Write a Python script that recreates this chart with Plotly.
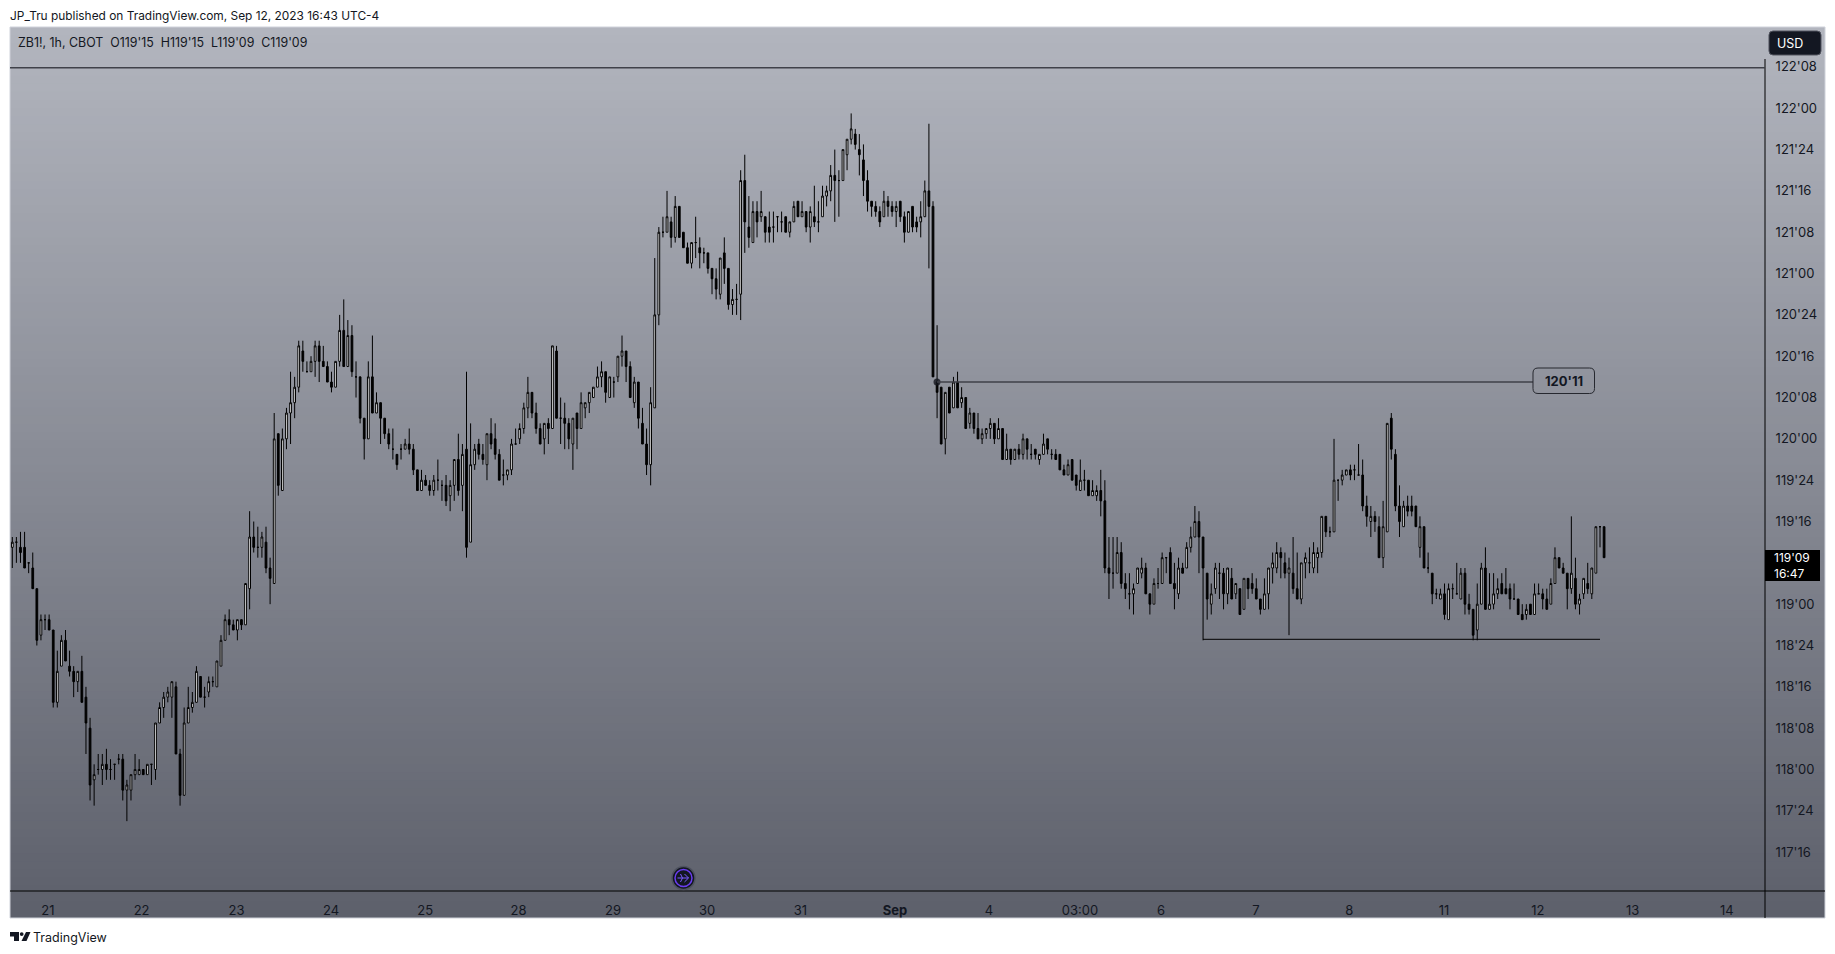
import plotly.graph_objects as go

# Prices are stored in 32nds above 117'00
opens = [75,76,75,75,72,71,67,58,61,61, 59,45,52,57,52,51,49,51,46,40, 30,32,32,33,32,33,34,34,28,28, 31,31,32,31,33,32,41,44,46,46,
48,35,27,41,44,45,50,46,47,49, 48,52,57,61,60,59,61,60,67,77, 75,75,76,71,68,97,86,96,101,103, 106,113,109,109,111,114,111,110,107,106,
111,117,110,116,108,108,100,96,108,101, 103,100,97,94,93,94,94,95,94,90, 86,88,87,86,88,87,87,85,87,92, 87,94,76,91,95,93,91,97,96,93,
89,89,90,95,96,98,102,105,101,98, 96,99,98,113,100,100,99,95,101,98, 102,103,104,106,108,109,104,107,108,112, 113,110,103,107,99,95,91,102,120,136,
136,138,135,141,136,133,130,134,133,132, 132,129,127,124,132,129,122,123,124,146, 137,134,140,139,139,137,137,139,138,139, 136,138,142,139,140,137,139,138,139,143,
144,147,146,146,151,154,155,152,150,146, 142,141,140,139,142,141,140,142,139,136, 141,138,138,139,144,141,107,106,96,106, 102,107,103,104,99,101,98,96,97,98,
99,96,98,92,94,92,94,93,96,93, 94,92,93,96,93,93,93,90,89,92, 89,86,88,88,85,85,86,84,71,70, 70,74,68,66,66,68,70,71,66,64,
68,68,73,74,68,66,71,71,75,77, 80,77,70,64,67,70,70,66,69,66, 67,63,69,68,67,65,63,66,71,71, 74,72,70,70,67,65,72,72,71,73,
74,81,78,78,88,88,89,90,90,89, 89,83,80,81,79,73,78,100,93,83, 79,83,83,83,75,79,71,70,66,65, 66,61,67,66,65,70,64,63,59,64,
71,63,64,66,68,67,67,65,65,62, 62,64,62,66,66,65,64,68,73,71, 70,67,69,64,66,68,66,70,79,79]
highs = [77,77,78,78,72,74,67,62,62,62, 59,55,58,59,55,52,51,54,48,42, 33,35,35,36,34,33,35,35,30,31, 35,34,32,33,33,41,45,47,48,49,
49,36,44,48,47,52,50,48,50,50, 53,58,62,63,61,61,61,68,82,80, 79,78,79,73,101,97,98,102,109,108, 115,115,111,112,115,115,114,111,109,111,
120,123,119,118,111,108,100,111,116,105, 103,100,98,98,93,95,96,98,95,90, 90,89,88,89,92,88,89,88,92,97, 95,109,99,95,96,95,97,100,99,94,
92,90,96,98,99,103,108,105,103,99, 99,100,114,114,104,103,100,100,101,105, 103,105,106,110,111,109,108,108,112,116, 113,111,108,107,102,98,106,131,137,139,
144,139,143,141,136,134,134,139,135,133, 132,129,129,131,135,129,125,126,148,151, 143,142,142,144,139,140,140,139,140,139, 138,142,142,142,140,141,145,142,145,145,
149,152,148,152,154,159,156,155,153,148, 142,142,141,144,143,142,142,142,140,140, 141,139,142,146,157,142,118,106,105,106, 108,109,106,104,102,101,101,98,98,100,
99,100,98,97,94,94,95,97,96,95, 94,93,97,96,94,94,93,91,92,92, 89,92,90,88,88,87,90,88,77,77, 77,76,70,70,68,71,73,72,66,69,
71,74,73,75,72,73,72,76,79,83, 82,77,70,68,72,72,71,71,71,68, 67,69,69,70,69,65,69,71,74,76, 75,74,73,77,74,72,74,75,76,75,
81,81,79,96,88,90,90,91,91,95, 92,85,83,82,81,84,99,101,94,87, 84,85,85,83,81,79,74,70,67,67, 68,68,68,72,71,71,66,63,68,72,
75,70,70,69,70,71,68,68,65,64, 64,64,68,68,67,67,69,75,73,72, 70,81,73,66,69,72,71,79,79,79]
lows = [71,72,72,71,70,67,56,57,59,59, 44,44,52,53,50,46,47,45,35,26, 25,31,29,30,30,30,33,26,22,26, 30,31,31,31,29,30,41,42,45,42,
35,25,27,41,43,45,46,44,46,48, 48,52,57,58,59,57,59,60,63,74, 73,73,70,64,68,85,86,94,95,100, 105,109,109,109,108,107,110,107,105,106,
110,110,110,108,104,99,92,96,101,101, 95,96,94,92,90,92,94,93,89,86, 86,87,85,85,86,84,83,82,84,85, 82,73,76,90,92,91,88,94,92,88,
87,88,89,95,95,97,100,100,97,95, 93,95,98,100,95,94,94,90,94,98, 100,101,104,106,106,103,104,104,107,110, 107,104,102,98,95,89,87,102,118,135,
136,133,134,135,133,130,129,131,129,130, 128,124,123,123,126,121,120,120,119,132, 133,134,135,138,134,134,134,136,136,136, 135,138,139,139,136,134,137,136,139,141,
142,138,139,146,148,153,152,147,143,140, 139,139,137,139,139,139,137,138,134,136, 136,136,135,139,129,108,100,95,93,101, 102,102,102,98,98,97,96,95,96,96,
95,96,92,92,91,92,92,92,92,92, 92,91,93,93,92,92,90,89,89,88, 86,86,86,85,85,84,81,70,65,67, 70,67,65,63,62,68,69,66,62,64,
67,68,70,68,63,65,70,71,74,77, 70,57,61,62,66,65,63,64,65,65, 62,63,65,66,65,62,63,63,68,70, 69,69,58,66,65,64,69,70,70,70,
73,77,77,78,84,87,89,88,88,89, 82,79,77,78,73,71,78,92,82,77, 79,81,81,79,73,71,70,64,65,65, 61,61,65,66,65,62,62,57,57,64,
63,63,63,65,66,66,63,65,62,61, 61,62,62,66,63,63,64,68,71,70, 63,66,63,62,65,66,65,70,75,73]
closes = [76,76,74,71,72,67,57,61,61,59, 45,51,57,53,51,49,51,45,41,29, 31,32,33,32,32,33,34,28,29,31, 32,32,31,33,33,41,44,46,47,49,
35,27,41,44,45,51,46,46,49,49, 53,57,61,60,59,61,60,68,77,75, 75,77,71,69,96,87,96,101,103,106, 114,111,109,111,114,111,110,107,106,111,
117,110,116,109,108,100,96,108,101,103, 100,97,95,94,91,94,95,94,90,86, 88,87,86,88,88,87,84,87,92,86, 93,75,91,94,93,92,97,95,93,88,
89,90,95,95,98,102,105,101,98,95, 99,98,114,100,100,99,96,100,98,103, 103,105,106,108,109,105,108,107,112,113, 110,104,107,100,95,91,103,120,136,136,
139,135,141,135,133,130,134,134,132,132, 129,127,125,131,129,122,123,123,146,138, 135,140,138,140,136,136,137,139,138,136, 138,141,139,140,137,140,138,138,143,144,
147,146,146,152,154,156,153,151,146,142, 141,140,138,142,141,140,141,139,136,140, 137,137,139,144,141,108,105,95,105,101, 107,102,104,98,101,98,96,97,98,99,
96,98,92,94,92,94,93,96,94,93, 93,93,95,94,93,92,90,89,91,88, 87,88,88,85,86,86,84,71,70,70, 74,68,67,66,67,71,71,66,64,68,
68,73,73,68,67,71,70,75,77,80, 77,71,65,66,71,70,66,71,65,68, 62,69,67,67,65,63,66,71,72,74, 73,70,71,67,65,72,73,72,74,74,
81,78,78,88,88,89,90,89,90,89, 83,81,81,80,73,79,99,94,83,80, 83,82,82,79,79,71,71,66,66,66, 62,67,67,66,70,64,63,58,64,71,
63,64,66,67,66,66,65,65,62,61, 63,62,66,66,65,63,68,73,71,70, 67,70,64,65,69,67,71,79,79,73]
assert len(opens) == len(highs) == len(lows) == len(closes) == 390

x_tick_pos = [8.7,31.6,54.8,77.9,100.9,123.7,146.8,169.8,192.6,215.7,238.7,260.9,280.7,303.9,326.7,349.9,372.8,396,419]
x_tick_text = ["21","22","23","24","25","28","29","30","31","<b>Sep</b>","4","03:00","6","7","8","11","12","13","14"]
y_tick_32nds = [16,24,32,40,48,56,64,80,88,96,104,112,120,128,136,144,152,160,168]
y_tick_text = ["117'16","117'24","118'00","118'08","118'16","118'24","119'00","119'16","119'24",
               "120'00","120'08","120'16","120'24","121'00","121'08","121'16","121'24","122'00","122'08"]
res_level = 107      # 120'11
top_level = 167.85
sup_level = 57.2

W, H = 1835, 954
L, R, T, B = 10, 1765, 27, 891
FONT = "Inter, Roboto, sans-serif"
INK = "#131722"

def px(v):  return (v - L) / (R - L)
def py(v):  return (B - v) / (B - T)
def price(t): return 117 + t / 32

idx_of = lambda xpx: (xpx - 12.3) / 4.092
t_of = lambda ypx: (934.8 - ypx) / 5.166

def rrect(x0, y0, x1, y1, r):
    c = lambda x, y: f"{px(x):.6f},{py(y):.6f}"
    return (f"M{c(x0+r,y0)} L{c(x1-r,y0)} Q{c(x1,y0)} {c(x1,y0+r)} L{c(x1,y1-r)} Q{c(x1,y1)} {c(x1-r,y1)} "
            f"L{c(x0+r,y1)} Q{c(x0,y1)} {c(x0,y1-r)} L{c(x0,y0+r)} Q{c(x0,y0)} {c(x0+r,y0)} Z")

def poly(points):
    return "M" + " L".join(f"{px(x):.6f},{py(y):.6f}" for x, y in points) + " Z"

shapes = []
c_top = (178, 181, 190)
c_bot = (93, 96, 107)
NB = 110
for i in range(NB):
    f = i / (NB - 1)
    col = tuple(round(a + (b - a) * f) for a, b in zip(c_top, c_bot))
    y0 = T + (918 - T) * i / NB
    shapes.append(dict(type="rect", xref="paper", yref="paper", x0=px(L), x1=px(1825), y0=py(y0), y1=py(918),
                       fillcolor=f"rgb{col}", line_width=0, layer="below"))
# panel outline
shapes.append(dict(type="rect", xref="paper", yref="paper", x0=px(L), x1=px(1825), y0=py(27), y1=py(918),
                   line=dict(color="#cfd2da", width=1), layer="below"))
# axis lines
shapes.append(dict(type="line", xref="paper", yref="paper", x0=px(1765), x1=px(1765), y0=py(59), y1=py(918),
                   line=dict(color="#000000", width=1)))
shapes.append(dict(type="line", xref="paper", yref="paper", x0=px(L), x1=px(1825), y0=py(891), y1=py(891),
                   line=dict(color="#000000", width=1)))
# drawn levels
shapes.append(dict(type="line", xref="paper", yref="y", x0=px(L), x1=px(1765), y0=price(top_level), y1=price(top_level),
                   line=dict(color="#3f4149", width=1.6)))
shapes.append(dict(type="line", xref="x", yref="y", x0=idx_of(937), x1=idx_of(1533), y0=price(res_level), y1=price(res_level),
                   line=dict(color="#3f4149", width=1.6)))
shapes.append(dict(type="line", xref="x", yref="y", x0=idx_of(1203), x1=idx_of(1600), y0=price(sup_level), y1=price(sup_level),
                   line=dict(color="#000000", width=1)))
# label box
shapes.append(dict(type="path", xref="paper", yref="paper", path=rrect(1533, 368, 1594.5, 393.5, 5),
                   line=dict(color="#26282f", width=1), fillcolor="rgba(0,0,0,0)"))
# USD badge
shapes.append(dict(type="path", xref="paper", yref="paper", path=rrect(1769, 31, 1821, 55, 4),
                   line=dict(color="#50535e", width=1), fillcolor=INK))
# last price tag
shapes.append(dict(type="rect", xref="paper", yref="paper", x0=px(1765), x1=px(1820), y0=py(550), y1=py(581),
                   fillcolor="#000000", line_width=0))
# event marker
ex, ey = 683.5, 878
for r, fill, lc in [(11.5, INK, "#4f5360"), (8.5, INK, "#6a3df0")]:
    shapes.append(dict(type="circle", xref="paper", yref="paper", x0=px(ex-r), x1=px(ex+r), y0=py(ey-r), y1=py(ey+r),
                       fillcolor=fill, line=dict(color=lc, width=1.5)))
shapes.append(dict(type="path", xref="paper", yref="paper",
                   path=f"M{px(ex-6):.6f},{py(ey):.6f} L{px(ex+5):.6f},{py(ey):.6f} M{px(ex+1):.6f},{py(ey-4):.6f} L{px(ex+5):.6f},{py(ey):.6f} L{px(ex+1):.6f},{py(ey+4):.6f} M{px(ex-3):.6f},{py(ey-4):.6f} L{px(ex-1):.6f},{py(ey):.6f} L{px(ex-3):.6f},{py(ey+4):.6f}",
                   line=dict(color="#7a5cff", width=1)))
# TradingView logo
for pts in ([(10,932),(19,932),(19,941),(14,941),(14,936.5),(10,936.5)], [(26,932),(30.5,932),(26.5,941),(21.5,941)]):
    shapes.append(dict(type="path", xref="paper", yref="paper", path=poly(pts), fillcolor="#131722", line_width=0))
shapes.append(dict(type="circle", xref="paper", yref="paper", x0=px(19.8), x1=px(23.6), y0=py(932.2), y1=py(936),
                   fillcolor="#131722", line_width=0))

def note(x, y, text, size=13, color=INK, anchor="left"):
    return dict(x=px(x), y=py(y), xref="paper", yref="paper", text=text, showarrow=False, xanchor=anchor, yanchor="middle",
                font=dict(family=FONT, size=size, color=color))

annotations = [
    note(8, 15.5, "JP_Tru published on TradingView.com, Sep 12, 2023 16:43 UTC-4", 11.9),
    note(16, 43, "ZB1!, 1h, CBOT&nbsp;&nbsp;O119'15&nbsp;&nbsp;H119'15&nbsp;&nbsp;L119'09&nbsp;&nbsp;C119'09", 12.4),
    note(1790, 43.5, "USD", 12.5, "#ffffff", "center"),
    note(1564, 381, "<b>120'11</b>", 13, "#131722", "center"),
    note(1772, 557.5, "119'09", 12, "#ffffff"),
    note(1772, 573.5, "16:47", 12, "#ffffff"),
    note(31, 937.5, "TradingView", 12.5, "#131722"),
]

bars = list(range(len(opens)))
fig = go.Figure()
fig.add_trace(go.Candlestick(
    x=bars,
    open=[price(v) for v in opens], high=[price(v) for v in highs],
    low=[price(v) for v in lows], close=[price(v) for v in closes],
    increasing=dict(line=dict(color="#000000", width=1), fillcolor="#ffffff"),
    decreasing=dict(line=dict(color="#000000", width=1), fillcolor="#000000"),
    whiskerwidth=0, hoverinfo="skip", showlegend=False))
fig.add_trace(go.Scatter(x=[idx_of(937)], y=[price(res_level)], mode="markers",
                         marker=dict(size=7, color="rgba(20,22,30,0.8)"), hoverinfo="skip", showlegend=False))

fig.update_layout(
    width=W, height=H, margin=dict(l=L, r=W-R, t=T, b=H-B, autoexpand=False),
    paper_bgcolor="#ffffff", plot_bgcolor="rgba(0,0,0,0)", showlegend=False, boxgap=0.4,
    shapes=shapes, annotations=annotations, hovermode=False, dragmode=False,
    xaxis=dict(range=[idx_of(L), idx_of(R)], rangeslider=dict(visible=False), showgrid=False, zeroline=False,
               tickmode="array", tickvals=x_tick_pos, ticktext=x_tick_text, ticks="outside", ticklen=7,
               tickcolor="rgba(0,0,0,0)", showline=False, tickfont=dict(family=FONT, size=13, color=INK)),
    yaxis=dict(range=[price(t_of(B)), price(t_of(T))], side="right", showgrid=False, zeroline=False, showline=False,
               tickmode="array", tickvals=[price(v) for v in y_tick_32nds], ticktext=y_tick_text,
               ticks="outside", ticklen=7, tickcolor="rgba(0,0,0,0)",
               tickfont=dict(family=FONT, size=13, color=INK)),
)
fig.write_html("out.html", config=dict(displayModeBar=False, responsive=False),
               post_script="document.body.style.margin='0';document.body.style.overflow='hidden';")
